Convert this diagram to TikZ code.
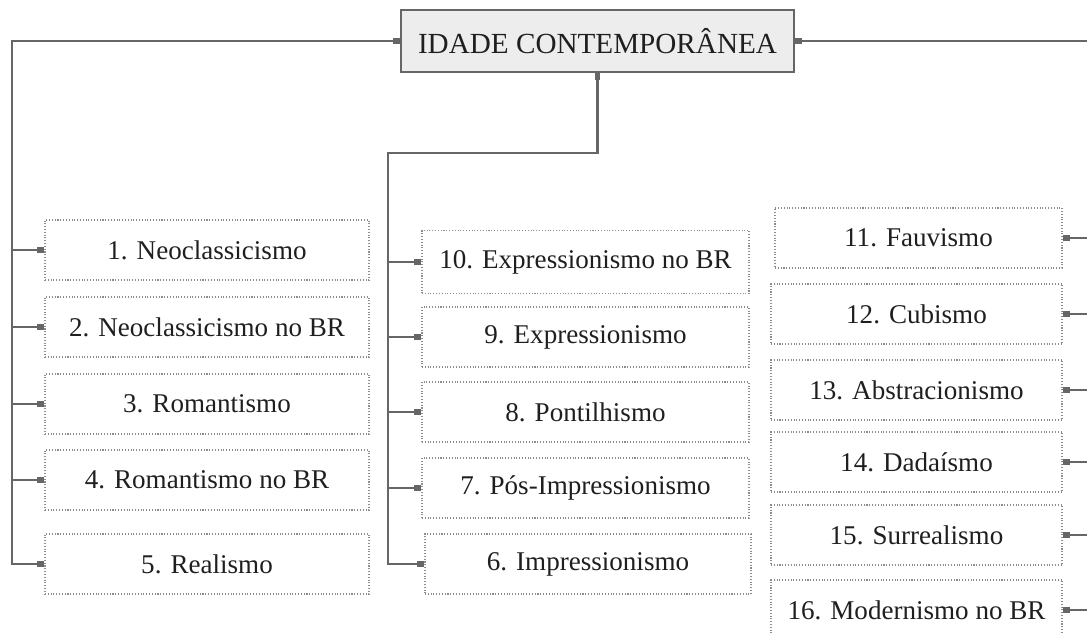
\documentclass[tikz,border=0pt]{standalone}
\usepackage{fontspec}
\setmainfont{Liberation Serif}
\usetikzlibrary{arrows.meta}
\definecolor{linegray}{rgb}{0.4,0.4,0.4}
\definecolor{dotgray}{rgb}{0.55,0.55,0.55}
\definecolor{rootfill}{rgb}{0.93,0.93,0.93}
\definecolor{textgray}{rgb}{0.12,0.12,0.12}

\begin{document}
\begin{tikzpicture}[
  font=\fontsize{15.4}{18}\selectfont, text=textgray,
  rootbox/.style={draw=linegray, line width=1.1pt, fill=rootfill, minimum width=7.86cm, minimum height=1.24cm, inner sep=0pt, font=\fontsize{16.6}{19}\selectfont},
  itembox/.style={draw=dotgray, densely dotted, line width=0.6pt, minimum height=1.2cm, inner sep=0pt},
  trunk/.style={draw=linegray, line width=1.1pt, {Square[length=0.14cm,width=0.11cm]}-{Square[length=0.14cm,width=0.11cm]}},
  stub/.style={draw=linegray, line width=0.8pt, -{Square[length=0.14cm,width=0.11cm]}}
]
  \useasboundingbox (0,0) rectangle (21.74,12.64);

  \node[rootbox] (root) at (11.95,11.82) {IDADE CONTEMPOR\^ANEA};

  % left column
  \node[itembox, minimum width=6.48cm] (neo)    at (4.14,7.64) {1. Neoclassicismo};
  \node[itembox, minimum width=6.48cm] (neobr)  at (4.14,6.10) {2. Neoclassicismo no BR};
  \node[itembox, minimum width=6.48cm] (rom)    at (4.14,4.56) {3. Romantismo};
  \node[itembox, minimum width=6.48cm] (rombr)  at (4.14,3.04) {4. Romantismo no BR};
  \node[itembox, minimum width=6.48cm] (real)   at (4.14,1.36) {5. Realismo};

  % middle column
  \node[itembox, minimum width=6.54cm, minimum height=1.26cm] (exprbr) at (11.71,7.40) {10. Expressionismo no BR};
  \node[itembox, minimum width=6.54cm] (expr)    at (11.71,5.90) {9. Expressionismo};
  \node[itembox, minimum width=6.54cm] (pont)    at (11.71,4.40) {8. Pontilhismo};
  \node[itembox, minimum width=6.54cm] (posimpr) at (11.71,2.88) {7. P\'os-Impressionismo};
  \node[itembox, minimum width=6.52cm] (impr)    at (11.76,1.36) {6. Impressionismo};

  % right column
  \node[itembox, minimum width=5.74cm] (fauv)  at (18.37,7.88) {11. Fauvismo};
  \node[itembox, minimum width=5.82cm] (cub)   at (18.33,6.36) {12. Cubismo};
  \node[itembox, minimum width=5.82cm] (abstr) at (18.33,4.84) {13. Abstracionismo};
  \node[itembox, minimum width=5.82cm] (dada)  at (18.33,3.40) {14. Dada\'ismo};
  \node[itembox, minimum width=5.82cm] (surr)  at (18.33,1.94) {15. Surrealismo};
  \node[itembox, minimum width=5.82cm] (modbr) at (18.33,0.44) {16. Modernismo no BR};

  \coordinate (lt) at (0.24,11.82);
  \coordinate (mt) at (7.76,9.58);
  \coordinate (rt) at (22.10,11.82);

  \draw[trunk] (root.west) -- (lt) |- (real.west);
  \foreach \n in {neo,neobr,rom,rombr}
    \draw[stub] (lt |- \n.west) -- (\n.west);

  \draw[trunk, line width=1.5pt] (root.south) |- (mt) |- (impr.west);
  \foreach \n in {exprbr,expr,pont,posimpr}
    \draw[stub] (mt |- \n.west) -- (\n.west);

  \draw[trunk] (root.east) -- (rt) |- (modbr.east);
  \foreach \n in {fauv,cub,abstr,dada,surr}
    \draw[stub] (rt |- \n.east) -- (\n.east);
\end{tikzpicture}
\end{document}
